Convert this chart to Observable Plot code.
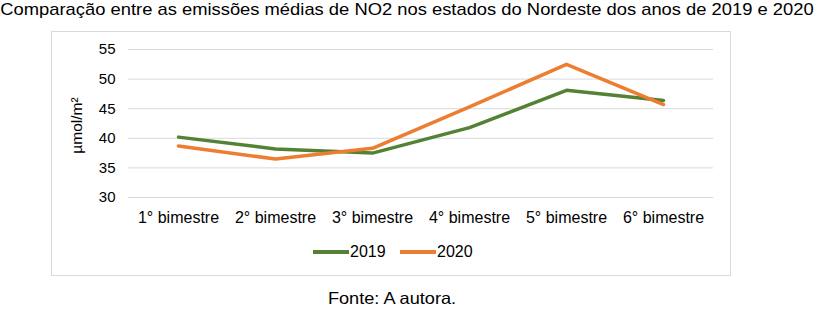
<!DOCTYPE html>
<html lang="pt">
<head>
<meta charset="utf-8">
<script src="https://cdn.jsdelivr.net/npm/d3@7"></script>
<script src="https://cdn.jsdelivr.net/npm/@observablehq/plot@0.6"></script>
<style>
  html, body { margin: 0; padding: 0; background: #fff; }
  body { font-family: Arial, "Liberation Sans", sans-serif; color: #000; }
  #wrap { position: relative; width: 823px; height: 313px; overflow: hidden; background: #fff; }
  #title { position: absolute; left: 0; top: 0; width: 814px; text-align: center; font-size: 17px; white-space: nowrap; transform: scaleX(1.08); transform-origin: 50% 50%; }
  #frame { position: absolute; left: 51px; top: 31px; width: 680px; height: 245px; border: 1px solid #d9d9d9; box-sizing: border-box; }
  #chart { position: absolute; left: 0; top: 0; }
  #legend { position: absolute; left: 0; top: 242px; width: 823px; height: 20px; }
  #caption { position: absolute; left: 0; top: 289px; width: 784px; text-align: center; font-size: 16.5px; white-space: nowrap; transform: scaleX(1.1); transform-origin: 50% 50%; }
</style>
</head>
<body>
<div id="wrap">
  <div id="title">Comparação entre as emissões médias de NO2 nos estados do Nordeste dos anos de 2019 e 2020</div>
  <div id="frame"></div>
  <div id="chart"></div>
  <div id="legend"></div>
  <div id="caption">Fonte: A autora.</div>
</div>
<script>
// Bimesters on the x axis
const periods = ["1° bimestre", "2° bimestre", "3° bimestre", "4° bimestre", "5° bimestre", "6° bimestre"];
// Mean NO2 emissions (µmol/m²) per bimester
const values2019 = [40.2, 38.2, 37.5, 41.8, 48.1, 46.4];
const values2020 = [38.7, 36.5, 38.3, 45.3, 52.5, 45.7];
const years = ["2019", "2020"];
const colors = ["#548235", "#ED7D31"];
const yTicks = [30, 35, 40, 45, 50, 55];

const rows = [
  ...periods.map((p, i) => ({period: p, value: values2019[i], year: "2019"})),
  ...periods.map((p, i) => ({period: p, value: values2020[i], year: "2020"}))
];

const chart = Plot.plot({
  width: 823,
  height: 240,
  marginLeft: 128,
  marginRight: 110,
  marginTop: 49,
  marginBottom: 43,
  style: {fontFamily: "Arial, 'Liberation Sans', sans-serif", fontSize: "16px", color: "#000", background: "transparent"},
  x: {type: "point", domain: periods, padding: 0.5},
  y: {domain: [30, 55]},
  color: {domain: years, range: colors},
  marks: [
    Plot.gridY(yTicks, {stroke: "#d9d9d9", strokeOpacity: 1, strokeWidth: 1}),
    Plot.axisY(yTicks, {tickSize: 0, tickPadding: 13, label: null, fontSize: 15}),
    Plot.axisX({tickSize: 0, tickPadding: 14, label: null, fontSize: 16}),
    Plot.text(["µmol/m²"], {frameAnchor: "left", dx: -51, dy: 2, rotate: -90, textAnchor: "middle", fontSize: 15.5}),
    Plot.line(rows, {x: "period", y: "value", z: "year", stroke: "year", strokeWidth: 3.5, strokeLinejoin: "round", strokeLinecap: "round"})
  ]
});
document.getElementById("chart").appendChild(chart);

// Legend: a short coloured line followed by the year
const legend = d3.select("#legend").append("svg").attr("width", 823).attr("height", 20);
const legendX = [313, 400];
years.forEach((y, i) => {
  legend.append("line")
    .attr("x1", legendX[i]).attr("x2", legendX[i] + 36)
    .attr("y1", 10).attr("y2", 10)
    .attr("stroke", colors[i]).attr("stroke-width", 4);
  legend.append("text")
    .attr("x", legendX[i] + 37).attr("y", 14.5)
    .attr("font-size", 16)
    .attr("font-family", "Arial, 'Liberation Sans', sans-serif")
    .text(y);
});
</script>
</body>
</html>
